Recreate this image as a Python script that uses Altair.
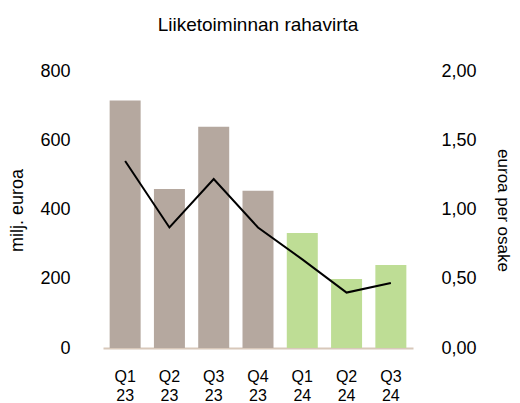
import altair as alt
import pandas as pd

quarters = ["Q1 23", "Q2 23", "Q3 23", "Q4 23", "Q1 24", "Q2 24", "Q3 24"]
years = ["2023", "2023", "2023", "2023", "2024", "2024", "2024"]
cash_flow = [715, 459, 639, 454, 332, 199, 240]
per_share = [1.35, 0.87, 1.22, 0.87, 0.64, 0.40, 0.47]

df = pd.DataFrame({"q": quarters, "year": years, "cf": cash_flow, "eps": per_share})

FONT = "Liberation Sans"

x = alt.X("q:N", sort=quarters, title=None,
          scale=alt.Scale(paddingInner=0.3, paddingOuter=0.15),
          axis=alt.Axis(labelExpr="split(datum.label, ' ')", labelAngle=0,
                        labelFontSize=16, labelLineHeight=19, labelPadding=20,
                        ticks=False, domainColor="#d8c8ba", domainWidth=2,
                        labelColor="#000000", labelFont=FONT))

bars = alt.Chart(df).mark_bar().encode(
    x=x,
    y=alt.Y("cf:Q", scale=alt.Scale(domain=[0, 800]),
            axis=alt.Axis(values=[0, 200, 400, 600, 800], title="milj. euroa",
                          grid=False, domain=False, ticks=False,
                          labelFontSize=18, labelPadding=33, labelColor="#000000",
                          labelFont=FONT, titleFont=FONT, titleFontSize=18,
                          titleFontWeight="normal", titleColor="#000000",
                          titleX=-86, titleY=139, titleAngle=-90,
                          titleAlign="center", titleBaseline="middle")),
    color=alt.Color("year:N", scale=alt.Scale(domain=["2023", "2024"],
                                              range=["#b5a89f", "#bedd95"]),
                    legend=None),
)

line = alt.Chart(df).mark_line(color="#000000", strokeWidth=2).encode(
    x=alt.X("q:N", sort=quarters),
    y=alt.Y("eps:Q", scale=alt.Scale(domain=[0, 2]),
            axis=alt.Axis(orient="right", values=[0, 0.5, 1, 1.5, 2],
                          labelExpr="replace(format(datum.value, '.2f'), '.', ',')",
                          title="euroa per osake", grid=False, domain=False, ticks=False,
                          labelFontSize=18, labelPadding=28, labelColor="#000000",
                          labelFont=FONT, titleFont=FONT, titleFontSize=17,
                          titleFontWeight="normal", titleColor="#000000",
                          titleX=89, titleY=139, titleAngle=90,
                          titleAlign="center", titleBaseline="middle")),
)

chart = alt.layer(bars, line).resolve_scale(y="independent").properties(
    width=310, height=277,
    autosize=alt.AutoSizeParams(type="none"),
    padding={"left": 95, "top": 63, "right": 99, "bottom": 55},
    title=alt.TitleParams("Liiketoiminnan rahavirta", font=FONT, fontSize=19,
                          fontWeight="normal", color="#000000", anchor="middle",
                          offset=27),
).configure(background="#ffffff").configure_view(stroke=None, strokeWidth=0)

chart.save("out.html", embed_options={"renderer": "svg", "actions": False})
